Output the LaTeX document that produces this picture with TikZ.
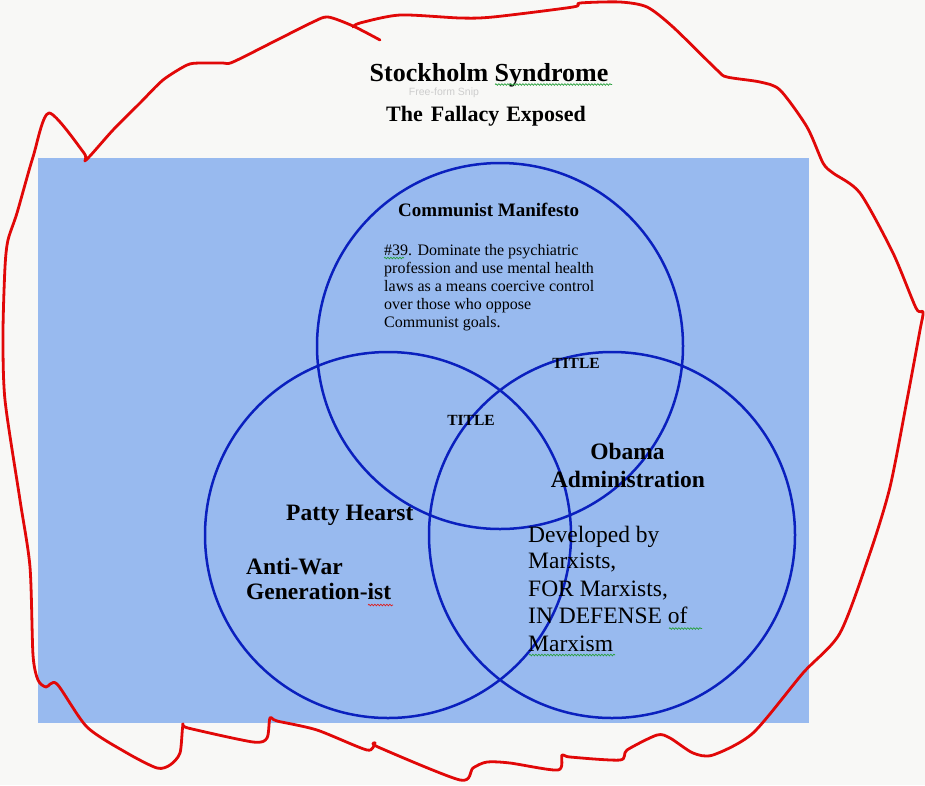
\documentclass[tikz,border=0pt]{standalone}
\usepackage{fontspec}
\setmainfont{Liberation Serif}
\newfontfamily\uisans{Liberation Sans}
\usetikzlibrary{decorations.pathmorphing}
\definecolor{pagebg}{RGB}{248,248,246}
\definecolor{panelblue}{RGB}{152,186,239}
\definecolor{ringblue}{RGB}{10,32,190}
\definecolor{penred}{RGB}{225,8,8}
\definecolor{spellgreen}{RGB}{40,160,60}
\definecolor{spellred}{RGB}{220,30,30}
\definecolor{snipgray}{RGB}{205,205,205}
\begin{document}
\begin{tikzpicture}[x=1pt,y=-1pt,
  ring/.style={draw=ringblue,line width=2.5pt},
  pen/.style={draw=penred,line width=2.8pt,line join=round,line cap=round},
  lbl/.style={inner sep=0pt,anchor=base west,text=black},
  clbl/.style={inner sep=0pt,anchor=base,text=black},
  bigbold/.style={font=\fontsize{23.5}{27}\selectfont\bfseries},
  bigreg/.style={font=\fontsize{23.5}{27}\selectfont},
  smallreg/.style={font=\fontsize{16}{18}\selectfont},
  tinybold/.style={font=\fontsize{15.5}{18}\selectfont\bfseries},
  spell/.style={line width=0.7pt,decorate,decoration={snake,segment length=3pt,amplitude=0.8pt}}
]
\fill[pagebg] (0,0) rectangle (925,785);
\useasboundingbox (0,0) rectangle (925,785);
\fill[panelblue] (38,158) rectangle (809,723);

% circles
\draw[ring] (500,346) circle[radius=183];
\draw[ring] (388,535) circle[radius=183];
\draw[ring] (612,535) circle[radius=183];

% headings
\node[clbl,font=\fontsize{26}{30}\selectfont\bfseries] (title) at (489,81) {Stockholm Syndrome};
\node[clbl,font=\fontsize{10.5}{12}\selectfont\uisans,text=snipgray] (snip) at (444,95) {Free-form Snip};
\node[clbl,font=\fontsize{22}{26}\selectfont\bfseries] (subtitle) at (486,121) {The\hspace{8pt}Fallacy\hspace{7pt}Exposed};

% top circle
\node[lbl,font=\fontsize{19}{22}\selectfont\bfseries] (cm) at (398,216) {Communist Manifesto};
\node[lbl,smallreg] (p1) at (384,255) {\#39. Dominate the psychiatric};
\node[lbl,smallreg] (p2) at (384,273.2) {profession and use mental health};
\node[lbl,smallreg] (p3) at (384,291.4) {laws as a means coercive control};
\node[lbl,smallreg] (p4) at (384,309.6) {over those who oppose};
\node[lbl,smallreg] (p5) at (384,327.8) {Communist goals.};

% titles in overlaps
\node[clbl,tinybold] (t1) at (576,368) {TITLE};
\node[clbl,tinybold] (t2) at (471,425) {TITLE};

% left circle
\node[lbl,bigbold] (ph) at (286,520) {Patty Hearst};
\node[lbl,bigbold] (aw1) at (246,574) {Anti-War};
\node[lbl,bigbold] (aw2) at (246,599.5) {Generation-ist};

% right circle
\node[clbl,bigbold] (ob1) at (627.5,459) {Obama};
\node[clbl,bigbold] (ob2) at (628,487) {Administration};
\node[lbl,bigreg] (d1) at (528,542) {Developed by};
\node[lbl,bigreg] (d2) at (528,568.5) {Marxists,};
\node[lbl,bigreg] (d3) at (528,596) {FOR Marxists,};
\node[lbl,bigreg] (d4) at (528,623) {IN DEFENSE of};
\node[lbl,bigreg] (d5) at (528,651) {Marxism};

% spell-check squiggles
\draw[spell,spellgreen] (495,84.5) -- (612,84.5);
\draw[spell,spellgreen] (384,258) -- (404,258);
\draw[spell,spellgreen] (669,628.5) -- (702,628.5);
\draw[spell,spellgreen] (529,655) -- (615,655);
\draw[spell,spellred] (368,605) -- (393,605);

% red freehand outline
\draw[pen] plot[smooth,tension=0.45] coordinates {
(380,40) (353,26) (328,17) (313,22) (277,40) (233,62) (223,63) (200,63) (187,65)
(163,80) (140,103) (113,130) (86,160) (84,153) (49,113) (33,157) (17,213) (8,240)
(5,267) (3,333) (5,400) (20,500) (30,567) (33,655) (38,680) (46,687) (57,684)
(87,727) (127,753) (157,768) (170,765) (180,753) (183,725) (188,728) (253,742)
(267,738) (270,718) (277,721) (317,730) (367,750) (375,743) (378,747) (460,780)
(473,768) (487,762) (510,763) (558,770) (562,755) (570,757) (620,760) (627,750)
(657,735) (670,738) (693,753) (713,755) (753,733) (803,673) (840,633) (870,553)
(890,487) (907,400) (920,330) (923,312) (916,308) (893,253) (860,193) (833,173)
(823,163) (807,127) (780,90) (760,82) (727,77) (717,70) (673,27) (647,7) (620,2)
(580,3) (573,7) (493,17) (460,18) (400,15) (360,23) (353,27)};
\end{tikzpicture}
\end{document}
